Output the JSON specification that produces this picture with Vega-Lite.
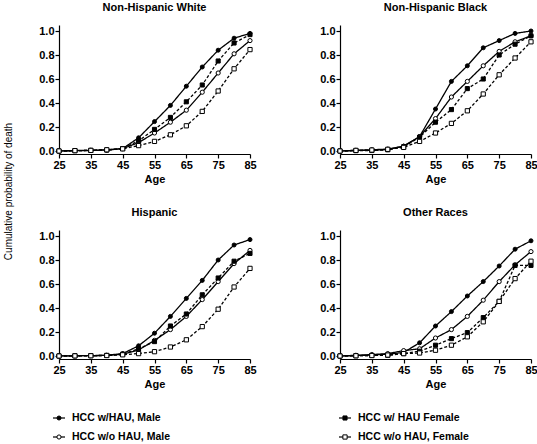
{
  "$schema": "https://vega.github.io/schema/vega-lite/v6.json",
  "background": "white",
  "padding": {"left": 3, "top": 2, "right": 0, "bottom": 2},
  "config": {
    "font": "Liberation Sans",
    "view": {"stroke": null},
    "title": {"fontSize": 11, "fontWeight": "bold", "color": "black", "offset": 12, "anchor": "middle"},
    "axis": {"labelFont": "Liberation Sans", "labelFontSize": 11, "labelFontWeight": "bold", "labelColor": "black", "titleFontSize": 11, "titleFontWeight": "bold", "titleColor": "black", "domainColor": "black", "tickColor": "black", "tickSize": 4, "domainWidth": 1.2, "tickWidth": 1.2, "grid": false, "labelPadding": 1, "labelOverlap": false, "labelFlush": false, "tickCount": 20}
  },
  "datasets": {
    "leg": [
      {"group":"HCC w/HAU, Male","sex":"Male","hau":"w/HAU"},
      {"group":"HCC w/o HAU, Male","sex":"Male","hau":"w/o HAU"},
      {"group":"HCC w/ HAU Female","sex":"Female","hau":"w/HAU"},
      {"group":"HCC w/o HAU, Female","sex":"Female","hau":"w/o HAU"}
    ],
    "d": [
      {"race":"Non-Hispanic White","group":"HCC w/HAU, Male","age":25,"p":0},
      {"race":"Non-Hispanic White","group":"HCC w/HAU, Male","age":30,"p":0.003},
      {"race":"Non-Hispanic White","group":"HCC w/HAU, Male","age":35,"p":0.004},
      {"race":"Non-Hispanic White","group":"HCC w/HAU, Male","age":40,"p":0.008},
      {"race":"Non-Hispanic White","group":"HCC w/HAU, Male","age":45,"p":0.02},
      {"race":"Non-Hispanic White","group":"HCC w/HAU, Male","age":50,"p":0.11},
      {"race":"Non-Hispanic White","group":"HCC w/HAU, Male","age":55,"p":0.245},
      {"race":"Non-Hispanic White","group":"HCC w/HAU, Male","age":60,"p":0.38},
      {"race":"Non-Hispanic White","group":"HCC w/HAU, Male","age":65,"p":0.54},
      {"race":"Non-Hispanic White","group":"HCC w/HAU, Male","age":70,"p":0.70},
      {"race":"Non-Hispanic White","group":"HCC w/HAU, Male","age":75,"p":0.84},
      {"race":"Non-Hispanic White","group":"HCC w/HAU, Male","age":80,"p":0.94},
      {"race":"Non-Hispanic White","group":"HCC w/HAU, Male","age":85,"p":0.98},
      {"race":"Non-Hispanic White","group":"HCC w/o HAU, Male","age":25,"p":0},
      {"race":"Non-Hispanic White","group":"HCC w/o HAU, Male","age":30,"p":0.004},
      {"race":"Non-Hispanic White","group":"HCC w/o HAU, Male","age":35,"p":0.006},
      {"race":"Non-Hispanic White","group":"HCC w/o HAU, Male","age":40,"p":0.01},
      {"race":"Non-Hispanic White","group":"HCC w/o HAU, Male","age":45,"p":0.02},
      {"race":"Non-Hispanic White","group":"HCC w/o HAU, Male","age":50,"p":0.07},
      {"race":"Non-Hispanic White","group":"HCC w/o HAU, Male","age":55,"p":0.15},
      {"race":"Non-Hispanic White","group":"HCC w/o HAU, Male","age":60,"p":0.24},
      {"race":"Non-Hispanic White","group":"HCC w/o HAU, Male","age":65,"p":0.34},
      {"race":"Non-Hispanic White","group":"HCC w/o HAU, Male","age":70,"p":0.49},
      {"race":"Non-Hispanic White","group":"HCC w/o HAU, Male","age":75,"p":0.65},
      {"race":"Non-Hispanic White","group":"HCC w/o HAU, Male","age":80,"p":0.81},
      {"race":"Non-Hispanic White","group":"HCC w/o HAU, Male","age":85,"p":0.92},
      {"race":"Non-Hispanic White","group":"HCC w/ HAU Female","age":25,"p":0},
      {"race":"Non-Hispanic White","group":"HCC w/ HAU Female","age":30,"p":0.003},
      {"race":"Non-Hispanic White","group":"HCC w/ HAU Female","age":35,"p":0.005},
      {"race":"Non-Hispanic White","group":"HCC w/ HAU Female","age":40,"p":0.008},
      {"race":"Non-Hispanic White","group":"HCC w/ HAU Female","age":45,"p":0.02},
      {"race":"Non-Hispanic White","group":"HCC w/ HAU Female","age":50,"p":0.085},
      {"race":"Non-Hispanic White","group":"HCC w/ HAU Female","age":55,"p":0.18},
      {"race":"Non-Hispanic White","group":"HCC w/ HAU Female","age":60,"p":0.28},
      {"race":"Non-Hispanic White","group":"HCC w/ HAU Female","age":65,"p":0.41},
      {"race":"Non-Hispanic White","group":"HCC w/ HAU Female","age":70,"p":0.55},
      {"race":"Non-Hispanic White","group":"HCC w/ HAU Female","age":75,"p":0.75},
      {"race":"Non-Hispanic White","group":"HCC w/ HAU Female","age":80,"p":0.90},
      {"race":"Non-Hispanic White","group":"HCC w/ HAU Female","age":85,"p":0.97},
      {"race":"Non-Hispanic White","group":"HCC w/o HAU, Female","age":25,"p":0},
      {"race":"Non-Hispanic White","group":"HCC w/o HAU, Female","age":30,"p":0.003},
      {"race":"Non-Hispanic White","group":"HCC w/o HAU, Female","age":35,"p":0.005},
      {"race":"Non-Hispanic White","group":"HCC w/o HAU, Female","age":40,"p":0.01},
      {"race":"Non-Hispanic White","group":"HCC w/o HAU, Female","age":45,"p":0.018},
      {"race":"Non-Hispanic White","group":"HCC w/o HAU, Female","age":50,"p":0.045},
      {"race":"Non-Hispanic White","group":"HCC w/o HAU, Female","age":55,"p":0.08},
      {"race":"Non-Hispanic White","group":"HCC w/o HAU, Female","age":60,"p":0.135},
      {"race":"Non-Hispanic White","group":"HCC w/o HAU, Female","age":65,"p":0.21},
      {"race":"Non-Hispanic White","group":"HCC w/o HAU, Female","age":70,"p":0.33},
      {"race":"Non-Hispanic White","group":"HCC w/o HAU, Female","age":75,"p":0.50},
      {"race":"Non-Hispanic White","group":"HCC w/o HAU, Female","age":80,"p":0.685},
      {"race":"Non-Hispanic White","group":"HCC w/o HAU, Female","age":85,"p":0.845},

      {"race":"Non-Hispanic Black","group":"HCC w/HAU, Male","age":25,"p":0},
      {"race":"Non-Hispanic Black","group":"HCC w/HAU, Male","age":30,"p":0.004},
      {"race":"Non-Hispanic Black","group":"HCC w/HAU, Male","age":35,"p":0.006},
      {"race":"Non-Hispanic Black","group":"HCC w/HAU, Male","age":40,"p":0.012},
      {"race":"Non-Hispanic Black","group":"HCC w/HAU, Male","age":45,"p":0.04},
      {"race":"Non-Hispanic Black","group":"HCC w/HAU, Male","age":50,"p":0.12},
      {"race":"Non-Hispanic Black","group":"HCC w/HAU, Male","age":55,"p":0.35},
      {"race":"Non-Hispanic Black","group":"HCC w/HAU, Male","age":60,"p":0.58},
      {"race":"Non-Hispanic Black","group":"HCC w/HAU, Male","age":65,"p":0.71},
      {"race":"Non-Hispanic Black","group":"HCC w/HAU, Male","age":70,"p":0.86},
      {"race":"Non-Hispanic Black","group":"HCC w/HAU, Male","age":75,"p":0.92},
      {"race":"Non-Hispanic Black","group":"HCC w/HAU, Male","age":80,"p":0.98},
      {"race":"Non-Hispanic Black","group":"HCC w/HAU, Male","age":85,"p":1.0},
      {"race":"Non-Hispanic Black","group":"HCC w/o HAU, Male","age":25,"p":0},
      {"race":"Non-Hispanic Black","group":"HCC w/o HAU, Male","age":30,"p":0.006},
      {"race":"Non-Hispanic Black","group":"HCC w/o HAU, Male","age":35,"p":0.01},
      {"race":"Non-Hispanic Black","group":"HCC w/o HAU, Male","age":40,"p":0.016},
      {"race":"Non-Hispanic Black","group":"HCC w/o HAU, Male","age":45,"p":0.04},
      {"race":"Non-Hispanic Black","group":"HCC w/o HAU, Male","age":50,"p":0.12},
      {"race":"Non-Hispanic Black","group":"HCC w/o HAU, Male","age":55,"p":0.27},
      {"race":"Non-Hispanic Black","group":"HCC w/o HAU, Male","age":60,"p":0.45},
      {"race":"Non-Hispanic Black","group":"HCC w/o HAU, Male","age":65,"p":0.58},
      {"race":"Non-Hispanic Black","group":"HCC w/o HAU, Male","age":70,"p":0.71},
      {"race":"Non-Hispanic Black","group":"HCC w/o HAU, Male","age":75,"p":0.83},
      {"race":"Non-Hispanic Black","group":"HCC w/o HAU, Male","age":80,"p":0.91},
      {"race":"Non-Hispanic Black","group":"HCC w/o HAU, Male","age":85,"p":0.96},
      {"race":"Non-Hispanic Black","group":"HCC w/ HAU Female","age":25,"p":0},
      {"race":"Non-Hispanic Black","group":"HCC w/ HAU Female","age":30,"p":0.003},
      {"race":"Non-Hispanic Black","group":"HCC w/ HAU Female","age":35,"p":0.004},
      {"race":"Non-Hispanic Black","group":"HCC w/ HAU Female","age":40,"p":0.01},
      {"race":"Non-Hispanic Black","group":"HCC w/ HAU Female","age":45,"p":0.035},
      {"race":"Non-Hispanic Black","group":"HCC w/ HAU Female","age":50,"p":0.115},
      {"race":"Non-Hispanic Black","group":"HCC w/ HAU Female","age":55,"p":0.24},
      {"race":"Non-Hispanic Black","group":"HCC w/ HAU Female","age":60,"p":0.345},
      {"race":"Non-Hispanic Black","group":"HCC w/ HAU Female","age":65,"p":0.52},
      {"race":"Non-Hispanic Black","group":"HCC w/ HAU Female","age":70,"p":0.60},
      {"race":"Non-Hispanic Black","group":"HCC w/ HAU Female","age":75,"p":0.80},
      {"race":"Non-Hispanic Black","group":"HCC w/ HAU Female","age":80,"p":0.89},
      {"race":"Non-Hispanic Black","group":"HCC w/ HAU Female","age":85,"p":0.96},
      {"race":"Non-Hispanic Black","group":"HCC w/o HAU, Female","age":25,"p":0},
      {"race":"Non-Hispanic Black","group":"HCC w/o HAU, Female","age":30,"p":0.005},
      {"race":"Non-Hispanic Black","group":"HCC w/o HAU, Female","age":35,"p":0.008},
      {"race":"Non-Hispanic Black","group":"HCC w/o HAU, Female","age":40,"p":0.014},
      {"race":"Non-Hispanic Black","group":"HCC w/o HAU, Female","age":45,"p":0.03},
      {"race":"Non-Hispanic Black","group":"HCC w/o HAU, Female","age":50,"p":0.08},
      {"race":"Non-Hispanic Black","group":"HCC w/o HAU, Female","age":55,"p":0.15},
      {"race":"Non-Hispanic Black","group":"HCC w/o HAU, Female","age":60,"p":0.23},
      {"race":"Non-Hispanic Black","group":"HCC w/o HAU, Female","age":65,"p":0.335},
      {"race":"Non-Hispanic Black","group":"HCC w/o HAU, Female","age":70,"p":0.475},
      {"race":"Non-Hispanic Black","group":"HCC w/o HAU, Female","age":75,"p":0.635},
      {"race":"Non-Hispanic Black","group":"HCC w/o HAU, Female","age":80,"p":0.775},
      {"race":"Non-Hispanic Black","group":"HCC w/o HAU, Female","age":85,"p":0.91},

      {"race":"Hispanic","group":"HCC w/HAU, Male","age":25,"p":0},
      {"race":"Hispanic","group":"HCC w/HAU, Male","age":30,"p":0.002},
      {"race":"Hispanic","group":"HCC w/HAU, Male","age":35,"p":0.003},
      {"race":"Hispanic","group":"HCC w/HAU, Male","age":40,"p":0.006},
      {"race":"Hispanic","group":"HCC w/HAU, Male","age":45,"p":0.02},
      {"race":"Hispanic","group":"HCC w/HAU, Male","age":50,"p":0.085},
      {"race":"Hispanic","group":"HCC w/HAU, Male","age":55,"p":0.19},
      {"race":"Hispanic","group":"HCC w/HAU, Male","age":60,"p":0.33},
      {"race":"Hispanic","group":"HCC w/HAU, Male","age":65,"p":0.48},
      {"race":"Hispanic","group":"HCC w/HAU, Male","age":70,"p":0.63},
      {"race":"Hispanic","group":"HCC w/HAU, Male","age":75,"p":0.80},
      {"race":"Hispanic","group":"HCC w/HAU, Male","age":80,"p":0.925},
      {"race":"Hispanic","group":"HCC w/HAU, Male","age":85,"p":0.97},
      {"race":"Hispanic","group":"HCC w/o HAU, Male","age":25,"p":0},
      {"race":"Hispanic","group":"HCC w/o HAU, Male","age":30,"p":0.002},
      {"race":"Hispanic","group":"HCC w/o HAU, Male","age":35,"p":0.003},
      {"race":"Hispanic","group":"HCC w/o HAU, Male","age":40,"p":0.005},
      {"race":"Hispanic","group":"HCC w/o HAU, Male","age":45,"p":0.015},
      {"race":"Hispanic","group":"HCC w/o HAU, Male","age":50,"p":0.05},
      {"race":"Hispanic","group":"HCC w/o HAU, Male","age":55,"p":0.13},
      {"race":"Hispanic","group":"HCC w/o HAU, Male","age":60,"p":0.22},
      {"race":"Hispanic","group":"HCC w/o HAU, Male","age":65,"p":0.33},
      {"race":"Hispanic","group":"HCC w/o HAU, Male","age":70,"p":0.47},
      {"race":"Hispanic","group":"HCC w/o HAU, Male","age":75,"p":0.62},
      {"race":"Hispanic","group":"HCC w/o HAU, Male","age":80,"p":0.77},
      {"race":"Hispanic","group":"HCC w/o HAU, Male","age":85,"p":0.88},
      {"race":"Hispanic","group":"HCC w/ HAU Female","age":25,"p":0},
      {"race":"Hispanic","group":"HCC w/ HAU Female","age":30,"p":0.002},
      {"race":"Hispanic","group":"HCC w/ HAU Female","age":35,"p":0.003},
      {"race":"Hispanic","group":"HCC w/ HAU Female","age":40,"p":0.005},
      {"race":"Hispanic","group":"HCC w/ HAU Female","age":45,"p":0.015},
      {"race":"Hispanic","group":"HCC w/ HAU Female","age":50,"p":0.06},
      {"race":"Hispanic","group":"HCC w/ HAU Female","age":55,"p":0.12},
      {"race":"Hispanic","group":"HCC w/ HAU Female","age":60,"p":0.25},
      {"race":"Hispanic","group":"HCC w/ HAU Female","age":65,"p":0.35},
      {"race":"Hispanic","group":"HCC w/ HAU Female","age":70,"p":0.51},
      {"race":"Hispanic","group":"HCC w/ HAU Female","age":75,"p":0.65},
      {"race":"Hispanic","group":"HCC w/ HAU Female","age":80,"p":0.79},
      {"race":"Hispanic","group":"HCC w/ HAU Female","age":85,"p":0.855},
      {"race":"Hispanic","group":"HCC w/o HAU, Female","age":25,"p":0},
      {"race":"Hispanic","group":"HCC w/o HAU, Female","age":30,"p":0.001},
      {"race":"Hispanic","group":"HCC w/o HAU, Female","age":35,"p":0.002},
      {"race":"Hispanic","group":"HCC w/o HAU, Female","age":40,"p":0.004},
      {"race":"Hispanic","group":"HCC w/o HAU, Female","age":45,"p":0.01},
      {"race":"Hispanic","group":"HCC w/o HAU, Female","age":50,"p":0.02},
      {"race":"Hispanic","group":"HCC w/o HAU, Female","age":55,"p":0.036},
      {"race":"Hispanic","group":"HCC w/o HAU, Female","age":60,"p":0.075},
      {"race":"Hispanic","group":"HCC w/o HAU, Female","age":65,"p":0.135},
      {"race":"Hispanic","group":"HCC w/o HAU, Female","age":70,"p":0.245},
      {"race":"Hispanic","group":"HCC w/o HAU, Female","age":75,"p":0.39},
      {"race":"Hispanic","group":"HCC w/o HAU, Female","age":80,"p":0.575},
      {"race":"Hispanic","group":"HCC w/o HAU, Female","age":85,"p":0.73},

      {"race":"Other Races","group":"HCC w/HAU, Male","age":25,"p":0},
      {"race":"Other Races","group":"HCC w/HAU, Male","age":30,"p":0.004},
      {"race":"Other Races","group":"HCC w/HAU, Male","age":35,"p":0.008},
      {"race":"Other Races","group":"HCC w/HAU, Male","age":40,"p":0.015},
      {"race":"Other Races","group":"HCC w/HAU, Male","age":45,"p":0.03},
      {"race":"Other Races","group":"HCC w/HAU, Male","age":50,"p":0.11},
      {"race":"Other Races","group":"HCC w/HAU, Male","age":55,"p":0.25},
      {"race":"Other Races","group":"HCC w/HAU, Male","age":60,"p":0.37},
      {"race":"Other Races","group":"HCC w/HAU, Male","age":65,"p":0.50},
      {"race":"Other Races","group":"HCC w/HAU, Male","age":70,"p":0.62},
      {"race":"Other Races","group":"HCC w/HAU, Male","age":75,"p":0.75},
      {"race":"Other Races","group":"HCC w/HAU, Male","age":80,"p":0.89},
      {"race":"Other Races","group":"HCC w/HAU, Male","age":85,"p":0.96},
      {"race":"Other Races","group":"HCC w/o HAU, Male","age":25,"p":0},
      {"race":"Other Races","group":"HCC w/o HAU, Male","age":30,"p":0.006},
      {"race":"Other Races","group":"HCC w/o HAU, Male","age":35,"p":0.012},
      {"race":"Other Races","group":"HCC w/o HAU, Male","age":40,"p":0.02},
      {"race":"Other Races","group":"HCC w/o HAU, Male","age":45,"p":0.045},
      {"race":"Other Races","group":"HCC w/o HAU, Male","age":50,"p":0.06},
      {"race":"Other Races","group":"HCC w/o HAU, Male","age":55,"p":0.15},
      {"race":"Other Races","group":"HCC w/o HAU, Male","age":60,"p":0.22},
      {"race":"Other Races","group":"HCC w/o HAU, Male","age":65,"p":0.33},
      {"race":"Other Races","group":"HCC w/o HAU, Male","age":70,"p":0.465},
      {"race":"Other Races","group":"HCC w/o HAU, Male","age":75,"p":0.62},
      {"race":"Other Races","group":"HCC w/o HAU, Male","age":80,"p":0.76},
      {"race":"Other Races","group":"HCC w/o HAU, Male","age":85,"p":0.87},
      {"race":"Other Races","group":"HCC w/ HAU Female","age":25,"p":0},
      {"race":"Other Races","group":"HCC w/ HAU Female","age":30,"p":0.002},
      {"race":"Other Races","group":"HCC w/ HAU Female","age":35,"p":0.004},
      {"race":"Other Races","group":"HCC w/ HAU Female","age":40,"p":0.006},
      {"race":"Other Races","group":"HCC w/ HAU Female","age":45,"p":0.02},
      {"race":"Other Races","group":"HCC w/ HAU Female","age":50,"p":0.04},
      {"race":"Other Races","group":"HCC w/ HAU Female","age":55,"p":0.09},
      {"race":"Other Races","group":"HCC w/ HAU Female","age":60,"p":0.145},
      {"race":"Other Races","group":"HCC w/ HAU Female","age":65,"p":0.195},
      {"race":"Other Races","group":"HCC w/ HAU Female","age":70,"p":0.32},
      {"race":"Other Races","group":"HCC w/ HAU Female","age":75,"p":0.455},
      {"race":"Other Races","group":"HCC w/ HAU Female","age":80,"p":0.755},
      {"race":"Other Races","group":"HCC w/ HAU Female","age":85,"p":0.755},
      {"race":"Other Races","group":"HCC w/o HAU, Female","age":25,"p":0},
      {"race":"Other Races","group":"HCC w/o HAU, Female","age":30,"p":0.002},
      {"race":"Other Races","group":"HCC w/o HAU, Female","age":35,"p":0.004},
      {"race":"Other Races","group":"HCC w/o HAU, Female","age":40,"p":0.008},
      {"race":"Other Races","group":"HCC w/o HAU, Female","age":45,"p":0.02},
      {"race":"Other Races","group":"HCC w/o HAU, Female","age":50,"p":0.025},
      {"race":"Other Races","group":"HCC w/o HAU, Female","age":55,"p":0.048},
      {"race":"Other Races","group":"HCC w/o HAU, Female","age":60,"p":0.09},
      {"race":"Other Races","group":"HCC w/o HAU, Female","age":65,"p":0.16},
      {"race":"Other Races","group":"HCC w/o HAU, Female","age":70,"p":0.285},
      {"race":"Other Races","group":"HCC w/o HAU, Female","age":75,"p":0.455},
      {"race":"Other Races","group":"HCC w/o HAU, Female","age":80,"p":0.645},
      {"race":"Other Races","group":"HCC w/o HAU, Female","age":85,"p":0.79}
    ]
  },
  "spacing": 24,
  "vconcat": [
    {
      "data": {"name": "d"},
      "bounds": "flush",
      "columns": 2,
      "spacing": {"row": 76, "column": 90},
      "concat": [
        {
          "title": "Non-Hispanic White",
          "width": 191, "height": 129,
          "transform": [{"filter": "datum.race === 'Non-Hispanic White'"}],
          "layer": [
            {"mark": {"type": "line", "color": "black", "strokeWidth": 1.3},
             "encoding": {
               "x": {"field": "age", "type": "quantitative", "scale": {"domain": [25, 85], "nice": false}, "axis": {"values": [25,35,45,55,65,75,85], "tickCount": 20, "title": "Age", "titlePadding": 3}},
               "y": {"field": "p", "type": "quantitative", "scale": {"domain": [-0.025, 1.05], "nice": false}, "axis": {"values": [0,0.2,0.4,0.6,0.8,1.0], "tickCount": 20, "format": ".1f", "title": "Cumulative probability of death", "titleX": -46, "titleY": 166, "titleFontWeight": "normal", "titleFontSize": 10}},
               "strokeDash": {"field": "group", "type": "nominal", "scale": {"domain": ["HCC w/HAU, Male","HCC w/ HAU Female","HCC w/o HAU, Male","HCC w/o HAU, Female"], "range": [[1,0],[3,2],[1,0],[3,2]]}, "legend": null}
             }},
            {"mark": {"type": "point", "filled": true, "stroke": "black", "strokeWidth": 1, "opacity": 1},
             "encoding": {
               "x": {"field": "age", "type": "quantitative"},
               "y": {"field": "p", "type": "quantitative"},
               "shape": {"field": "group", "type": "nominal", "legend": null, "scale": {"domain": ["HCC w/HAU, Male","HCC w/ HAU Female","HCC w/o HAU, Male","HCC w/o HAU, Female"], "range": ["circle","square","circle","square"]}},
               "fill": {"field": "group", "type": "nominal", "legend": null, "scale": {"domain": ["HCC w/HAU, Male","HCC w/ HAU Female","HCC w/o HAU, Male","HCC w/o HAU, Female"], "range": ["black","black","white","white"]}},
               "size": {"field": "group", "type": "nominal", "legend": null, "scale": {"domain": ["HCC w/HAU, Male","HCC w/ HAU Female","HCC w/o HAU, Male","HCC w/o HAU, Female"], "range": [16, 18, 32, 22]}}
             }}
          ]
        },
        {
          "title": "Non-Hispanic Black",
          "width": 191, "height": 129,
          "transform": [{"filter": "datum.race === 'Non-Hispanic Black'"}],
          "layer": [
            {"mark": {"type": "line", "color": "black", "strokeWidth": 1.3},
             "encoding": {
               "x": {"field": "age", "type": "quantitative", "scale": {"domain": [25, 85], "nice": false}, "axis": {"values": [25,35,45,55,65,75,85], "tickCount": 20, "title": "Age", "titlePadding": 3}},
               "y": {"field": "p", "type": "quantitative", "scale": {"domain": [-0.025, 1.05], "nice": false}, "axis": {"values": [0,0.2,0.4,0.6,0.8,1.0], "tickCount": 20, "format": ".1f", "title": null}},
               "strokeDash": {"field": "group", "type": "nominal", "legend": null}
             }},
            {"mark": {"type": "point", "filled": true, "stroke": "black", "strokeWidth": 1, "opacity": 1},
             "encoding": {
               "x": {"field": "age", "type": "quantitative"},
               "y": {"field": "p", "type": "quantitative"},
               "shape": {"field": "group", "type": "nominal", "legend": null},
               "fill": {"field": "group", "type": "nominal", "legend": null},
               "size": {"field": "group", "type": "nominal", "legend": null}
             }}
          ]
        },
        {
          "title": "Hispanic",
          "width": 191, "height": 129,
          "transform": [{"filter": "datum.race === 'Hispanic'"}],
          "layer": [
            {"mark": {"type": "line", "color": "black", "strokeWidth": 1.3},
             "encoding": {
               "x": {"field": "age", "type": "quantitative", "scale": {"domain": [25, 85], "nice": false}, "axis": {"values": [25,35,45,55,65,75,85], "tickCount": 20, "title": "Age", "titlePadding": 3}},
               "y": {"field": "p", "type": "quantitative", "scale": {"domain": [-0.025, 1.05], "nice": false}, "axis": {"values": [0,0.2,0.4,0.6,0.8,1.0], "tickCount": 20, "format": ".1f", "title": null}},
               "strokeDash": {"field": "group", "type": "nominal", "legend": null}
             }},
            {"mark": {"type": "point", "filled": true, "stroke": "black", "strokeWidth": 1, "opacity": 1},
             "encoding": {
               "x": {"field": "age", "type": "quantitative"},
               "y": {"field": "p", "type": "quantitative"},
               "shape": {"field": "group", "type": "nominal", "legend": null},
               "fill": {"field": "group", "type": "nominal", "legend": null},
               "size": {"field": "group", "type": "nominal", "legend": null}
             }}
          ]
        },
        {
          "title": "Other Races",
          "width": 191, "height": 129,
          "transform": [{"filter": "datum.race === 'Other Races'"}],
          "layer": [
            {"mark": {"type": "line", "color": "black", "strokeWidth": 1.3},
             "encoding": {
               "x": {"field": "age", "type": "quantitative", "scale": {"domain": [25, 85], "nice": false}, "axis": {"values": [25,35,45,55,65,75,85], "tickCount": 20, "title": "Age", "titlePadding": 3}},
               "y": {"field": "p", "type": "quantitative", "scale": {"domain": [-0.025, 1.05], "nice": false}, "axis": {"values": [0,0.2,0.4,0.6,0.8,1.0], "tickCount": 20, "format": ".1f", "title": null}},
               "strokeDash": {"field": "group", "type": "nominal", "legend": null}
             }},
            {"mark": {"type": "point", "filled": true, "stroke": "black", "strokeWidth": 1, "opacity": 1},
             "encoding": {
               "x": {"field": "age", "type": "quantitative"},
               "y": {"field": "p", "type": "quantitative"},
               "shape": {"field": "group", "type": "nominal", "legend": null},
               "fill": {"field": "group", "type": "nominal", "legend": null},
               "size": {"field": "group", "type": "nominal", "legend": null}
             }}
          ]
        }
      ]
    },
    {
      "data": {"name": "leg"},
      "width": 286, "height": 19,
      "layer": [
        {"mark": {"type": "tick", "orient": "horizontal", "color": "black", "size": 12, "thickness": 1.2, "opacity": 1},
         "encoding": {
           "x": {"field": "sex", "type": "nominal", "scale": {"type": "point", "domain": ["Male", "Female"], "padding": 0}, "axis": null},
           "y": {"field": "hau", "type": "nominal", "scale": {"type": "point", "domain": ["w/HAU", "w/o HAU"], "padding": 0}, "axis": null}
         }},
        {"mark": {"type": "point", "filled": true, "stroke": "black", "strokeWidth": 1, "opacity": 1},
         "encoding": {
           "x": {"field": "sex", "type": "nominal", "axis": null},
           "y": {"field": "hau", "type": "nominal", "axis": null},
           "shape": {"field": "group", "type": "nominal", "legend": null},
           "fill": {"field": "group", "type": "nominal", "legend": null},
           "size": {"field": "group", "type": "nominal", "legend": null}
         }},
        {"mark": {"type": "text", "align": "left", "baseline": "middle", "dx": 13, "fontSize": 10.5, "fontWeight": "bold", "font": "Liberation Sans", "color": "black"},
         "encoding": {
           "x": {"field": "sex", "type": "nominal", "axis": null},
           "y": {"field": "hau", "type": "nominal", "axis": null},
           "text": {"field": "group", "type": "nominal"}
         }}
      ]
    }
  ],
  "resolve": {"scale": {"shape": "shared", "fill": "shared", "size": "shared", "strokeDash": "shared"}}
}
